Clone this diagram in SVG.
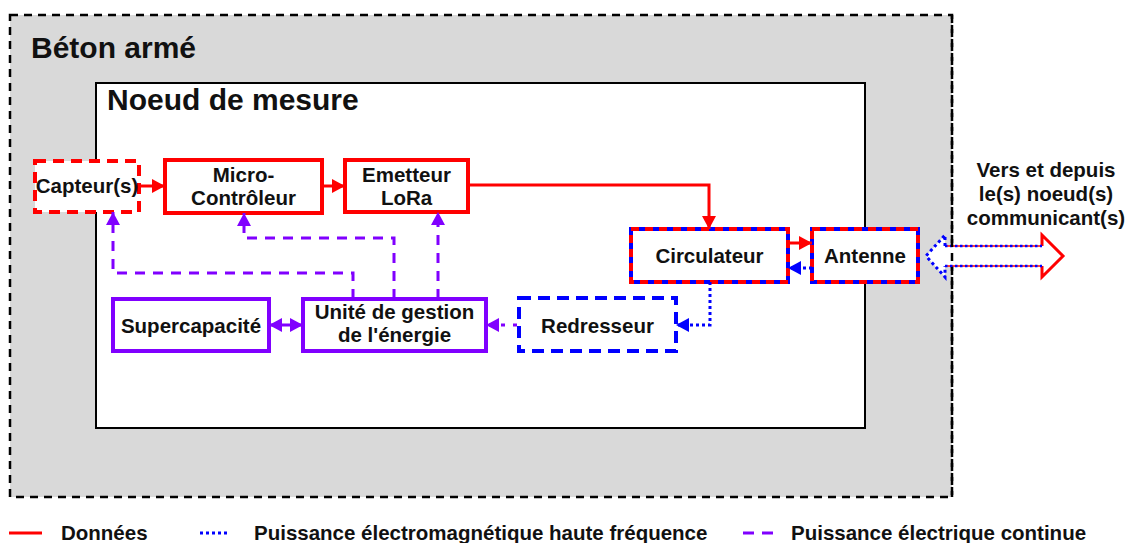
<svg xmlns="http://www.w3.org/2000/svg" width="1135" height="543" viewBox="0 0 1135 543">
<style>
text{font-family:"Liberation Sans",Arial,sans-serif;font-weight:bold;fill:#111}
.t{font-size:20.5px;text-anchor:middle}
.lg{font-size:20.5px}
.red{fill:#fff;stroke:#ff0000;stroke-width:4}
.redd{fill:#fff;stroke:#ff0000;stroke-width:4;stroke-dasharray:11,7}
.mixb{fill:#fff;stroke:#0000ff;stroke-width:4}
.mixr{fill:none;stroke:#ff0000;stroke-width:4;stroke-dasharray:8,6}
.blued{fill:#fff;stroke:#0000ff;stroke-width:4;stroke-dasharray:12,7}
.pur{fill:#fff;stroke:#8000ff;stroke-width:4}
.cr{fill:none;stroke:#ff0000;stroke-width:3}
.cb{fill:none;stroke:#0000ff;stroke-width:3;stroke-dasharray:3,3}
.cp{fill:none;stroke:#8000ff;stroke-width:3;stroke-dasharray:10,8}
</style>
<defs>
<marker id="ar" markerUnits="userSpaceOnUse" markerWidth="13" markerHeight="14" refX="13" refY="7" orient="auto"><path d="M0,0 L13,7 L0,14 z" fill="#ff0000"/></marker>
<marker id="ab" markerUnits="userSpaceOnUse" markerWidth="13" markerHeight="14" refX="13" refY="7" orient="auto"><path d="M0,0 L13,7 L0,14 z" fill="#0000ff"/></marker>
<marker id="ap" markerUnits="userSpaceOnUse" markerWidth="13" markerHeight="14" refX="13" refY="7" orient="auto-start-reverse"><path d="M0,0 L13,7 L0,14 z" fill="#8000ff"/></marker>
</defs>

<g id="beton">
<rect x="10" y="15" width="942" height="482" fill="#d9d9d9" stroke="#000" stroke-width="2.5" stroke-dasharray="8,6"/>
<text x="31" y="58" style="font-size:30px">Béton armé</text>
</g>
<g id="noeud">
<rect x="96" y="83" width="769" height="345" fill="#fff" stroke="#000" stroke-width="2"/>
<text x="107" y="110" style="font-size:30px">Noeud de mesure</text>
</g>

<g id="capteur">
<rect class="redd" x="35" y="161" width="104" height="51"/>
<text class="t" x="87" y="193">Capteur(s)</text>
</g>
<g id="microcontroleur">
<rect class="red" x="165" y="160" width="157" height="53"/>
<text class="t" x="243.5" y="182">Micro-</text>
<text class="t" x="243.5" y="205">Contrôleur</text>
</g>
<g id="emetteur">
<rect class="red" x="345" y="160" width="123" height="52"/>
<text class="t" x="406.5" y="182">Emetteur</text>
<text class="t" x="406.5" y="205">LoRa</text>
</g>
<g id="circulateur">
<rect class="mixb" x="631" y="229" width="157" height="53"/>
<rect class="mixr" x="631" y="229" width="157" height="53"/>
<text class="t" x="709.5" y="263">Circulateur</text>
</g>
<g id="antenne">
<rect class="mixb" x="812" y="229" width="106" height="53"/>
<rect class="mixr" x="812" y="229" width="106" height="53"/>
<text class="t" x="865" y="263">Antenne</text>
</g>
<g id="supercapacite">
<rect class="pur" x="113" y="299" width="156" height="52"/>
<text class="t" x="191" y="333">Supercapacité</text>
</g>
<g id="unite">
<rect class="pur" x="303" y="299" width="183" height="52"/>
<text class="t" x="394.5" y="319">Unité de gestion</text>
<text class="t" x="394.5" y="342">de l'énergie</text>
</g>
<g id="redresseur">
<rect class="blued" x="519" y="298" width="157" height="53"/>
<text class="t" x="597.5" y="333">Redresseur</text>
</g>

<g id="connectors">
<line class="cr" x1="139" y1="186" x2="165" y2="186" marker-end="url(#ar)"/>
<line class="cr" x1="322" y1="186" x2="345" y2="186" marker-end="url(#ar)"/>
<polyline class="cr" points="468,185 709,185 709,229" marker-end="url(#ar)"/>
<line class="cr" x1="788" y1="243" x2="812" y2="243" marker-end="url(#ar)"/>
<line class="cb" x1="812" y1="268" x2="788" y2="268" marker-end="url(#ab)"/>
<polyline class="cb" points="710,282 710,325 676,325" marker-end="url(#ab)"/>
<line x1="517" y1="325" x2="486" y2="325" stroke="#8000ff" stroke-width="3" style="stroke-dasharray:4,8" marker-end="url(#ap)"/>
<line x1="269" y1="325" x2="303" y2="325" stroke="#8000ff" stroke-width="3" marker-start="url(#ap)" marker-end="url(#ap)"/>
<polyline class="cp" points="353,299 353,273 113,273 113,212" marker-end="url(#ap)"/>
<polyline class="cp" points="394,299 394,238 244,238 244,213" marker-end="url(#ap)"/>
<polyline class="cp" points="438,299 438,212" marker-end="url(#ap)"/>
</g>

<g id="liaison">
<path d="M945,246 L1042,246 L1042,235 L1063,256 L1042,277 L1042,266 L945,266 L945,277 L926,256 L945,235 Z" fill="#fff" stroke="none"/>
<polyline points="1042,246 1042,235 1063,256 1042,277 1042,266" fill="none" stroke="#ff0000" stroke-width="3"/>
<line x1="945" y1="246" x2="1042" y2="246" stroke="#ff0000" stroke-width="1.5"/>
<line x1="945" y1="266" x2="1042" y2="266" stroke="#ff0000" stroke-width="1.5"/>
<line x1="945" y1="246" x2="1042" y2="246" stroke="#0000ff" stroke-width="2.5" stroke-dasharray="2.5,2.5"/>
<line x1="945" y1="266" x2="1042" y2="266" stroke="#0000ff" stroke-width="2.5" stroke-dasharray="2.5,2.5"/>
<polyline points="945,246 945,235 926,256 945,277 945,266" fill="none" stroke="#0000ff" stroke-width="3" stroke-dasharray="3,3"/>
<line x1="952" y1="15" x2="952" y2="497" stroke="#000" stroke-width="2.5" stroke-dasharray="8,6"/>
<text class="t" x="1046" y="177">Vers et depuis</text>
<text class="t" x="1046" y="201">le(s) noeud(s)</text>
<text class="t" x="1046" y="225">communicant(s)</text>
</g>

<g id="legende">
<line x1="9" y1="533" x2="42" y2="533" stroke="#ff0000" stroke-width="3"/>
<text class="lg" x="61" y="540">Données</text>
<line x1="200" y1="533" x2="230" y2="533" stroke="#0000ff" stroke-width="3" stroke-dasharray="3,3"/>
<text class="lg" x="254" y="540">Puissance électromagnétique haute fréquence</text>
<line x1="743" y1="533" x2="775" y2="533" stroke="#8000ff" stroke-width="3" stroke-dasharray="11,8"/>
<text class="lg" x="791" y="540">Puissance électrique continue</text>
</g>
</svg>
